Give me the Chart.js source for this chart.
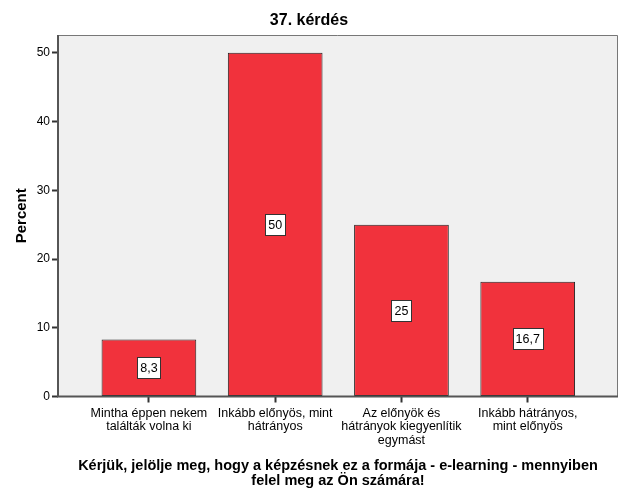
<!DOCTYPE html>
<html>
<head>
<meta charset="utf-8">
<script src="https://cdn.jsdelivr.net/npm/chart.js@4/dist/chart.umd.min.js"></script>
<style>
  html, body { margin: 0; padding: 0; background: #fff; }
  canvas { display: block; }
</style>
</head>
<body>
<canvas id="chart" width="626" height="501"></canvas>
<script>
// Values (percent of respondents)
const chartTitle = '37. kérdés';
const categories = [
    ['Mintha éppen nekem', 'találták volna ki'],
    ['Inkább előnyös, mint', 'hátrányos'],
    ['Az előnyök és', 'hátrányok kiegyenlítik', 'egymást'],
    ['Inkább hátrányos,', 'mint előnyös']
];
const percentValues = [8.3, 50, 25, 16.7];
const valueLabels = ['8,3', '50', '25', '16,7'];
const yTicks = [0, 10, 20, 30, 40, 50];
const yAxisTitle = 'Percent';
const xAxisTitle = [
    'Kérjük, jelölje meg, hogy a képzésnek ez a formája - e-learning - mennyiben',
    'felel meg az Ön számára!'
];

const FONT = '"Liberation Sans", Arial, sans-serif';

// Grey plot background plus the frame around it
const plotFrame = {
    id: 'plotFrame',
    beforeDraw(chart) {
        const { ctx, chartArea: a } = chart;
        ctx.save();
        ctx.fillStyle = '#f0f0f0';
        ctx.fillRect(a.left, a.top, a.right - a.left, a.bottom - a.top);
        ctx.restore();
    },
    afterDraw(chart) {
        const { ctx, chartArea: a } = chart;
        ctx.save();
        ctx.strokeStyle = '#777';
        ctx.lineWidth = 1;
        ctx.beginPath();
        ctx.moveTo(a.left, a.top + 0.5);
        ctx.lineTo(a.right - 0.5, a.top + 0.5);
        ctx.lineTo(a.right - 0.5, a.bottom);
        ctx.stroke();
        ctx.strokeStyle = '#555';
        ctx.lineWidth = 2;
        ctx.beginPath();
        ctx.moveTo(a.left, a.top);
        ctx.lineTo(a.left, a.bottom);
        ctx.lineTo(a.right, a.bottom);
        ctx.stroke();
        ctx.restore();
    }
};

// White boxed value labels in the middle of each bar
const boxedLabels = {
    id: 'boxedLabels',
    afterDatasetsDraw(chart) {
        const { ctx } = chart;
        const meta = chart.getDatasetMeta(0);
        ctx.save();
        ctx.font = '12.5px ' + FONT;
        ctx.textAlign = 'center';
        ctx.textBaseline = 'middle';
        meta.data.forEach((bar, i) => {
            const text = valueLabels[i];
            const cx = bar.x;
            const cy = (bar.y + bar.base) / 2;
            const w = Math.round(ctx.measureText(text).width + 6);
            const h = 21;
            const x0 = Math.round(cx - w / 2) + 0.5;
            const y0 = Math.round(cy - h / 2) + 0.5;
            ctx.fillStyle = '#ffffff';
            ctx.fillRect(x0, y0, w, h);
            ctx.strokeStyle = '#333';
            ctx.lineWidth = 1;
            ctx.strokeRect(x0, y0, w, h);
            ctx.fillStyle = '#000';
            ctx.fillText(text, cx, cy + 1);
        });
        ctx.restore();
    }
};

const ctx = document.getElementById('chart').getContext('2d');
new Chart(ctx, {
    type: 'bar',
    data: {
        datasets: [{
            data: percentValues.map((v, i) => ({ x: i, y: v })),
            backgroundColor: '#f1323c',
            borderColor: '#222222',
            borderWidth: 1,
            borderSkipped: false,
            categoryPercentage: 1,
            barPercentage: 0.75
        }]
    },
    options: {
        responsive: false,
        animation: false,
        devicePixelRatio: 1,
        layout: { padding: { left: 0, right: 8, top: 0, bottom: 0 } },
        plugins: {
            legend: { display: false },
            tooltip: { enabled: false },
            title: {
                display: true,
                text: chartTitle,
                color: '#000',
                font: { family: FONT, size: 16, weight: 'bold', lineHeight: 1 },
                padding: { top: 13, bottom: 6 }
            }
        },
        scales: {
            x: {
                type: 'linear',
                offset: false,
                min: -0.72,
                max: 3.715,
                afterBuildTicks: (scale) => {
                    scale.ticks = categories.map((c, i) => ({ value: i }));
                },
                afterFit: (scale) => { scale.height = 104.5; },
                ticks: {
                    autoSkip: false,
                    maxRotation: 0,
                    color: '#000',
                    padding: 4,
                    font: { family: FONT, size: 12.5, lineHeight: 1.08 },
                    callback: (value) => categories[value]
                },
                grid: {
                    offset: false,
                    drawOnChartArea: false,
                    drawTicks: true,
                    tickLength: 6,
                    tickWidth: 2,
                    tickColor: '#333'
                },
                border: { display: false },
                title: {
                    display: true,
                    text: xAxisTitle,
                    color: '#000',
                    font: { family: FONT, size: 14.5, weight: 'bold', lineHeight: 1.03 },
                    padding: { top: 0, bottom: 13 }
                }
            },
            y: {
                min: 0,
                max: 52.6,
                afterBuildTicks: (scale) => {
                    scale.ticks = yTicks.map(v => ({ value: v }));
                },
                afterFit: (scale) => { scale.width = 58; },
                ticks: {
                    color: '#000',
                    padding: 2,
                    font: { family: FONT, size: 12 }
                },
                grid: {
                    drawOnChartArea: false,
                    drawTicks: true,
                    tickLength: 6,
                    tickWidth: 2,
                    tickColor: '#333'
                },
                border: { display: false },
                title: {
                    display: true,
                    text: yAxisTitle,
                    color: '#000',
                    font: { family: FONT, size: 15, weight: 'bold', lineHeight: 1 },
                    padding: { top: 14.5, bottom: 0 }
                }
            }
        }
    },
    plugins: [plotFrame, boxedLabels]
});
</script>
</body>
</html>
